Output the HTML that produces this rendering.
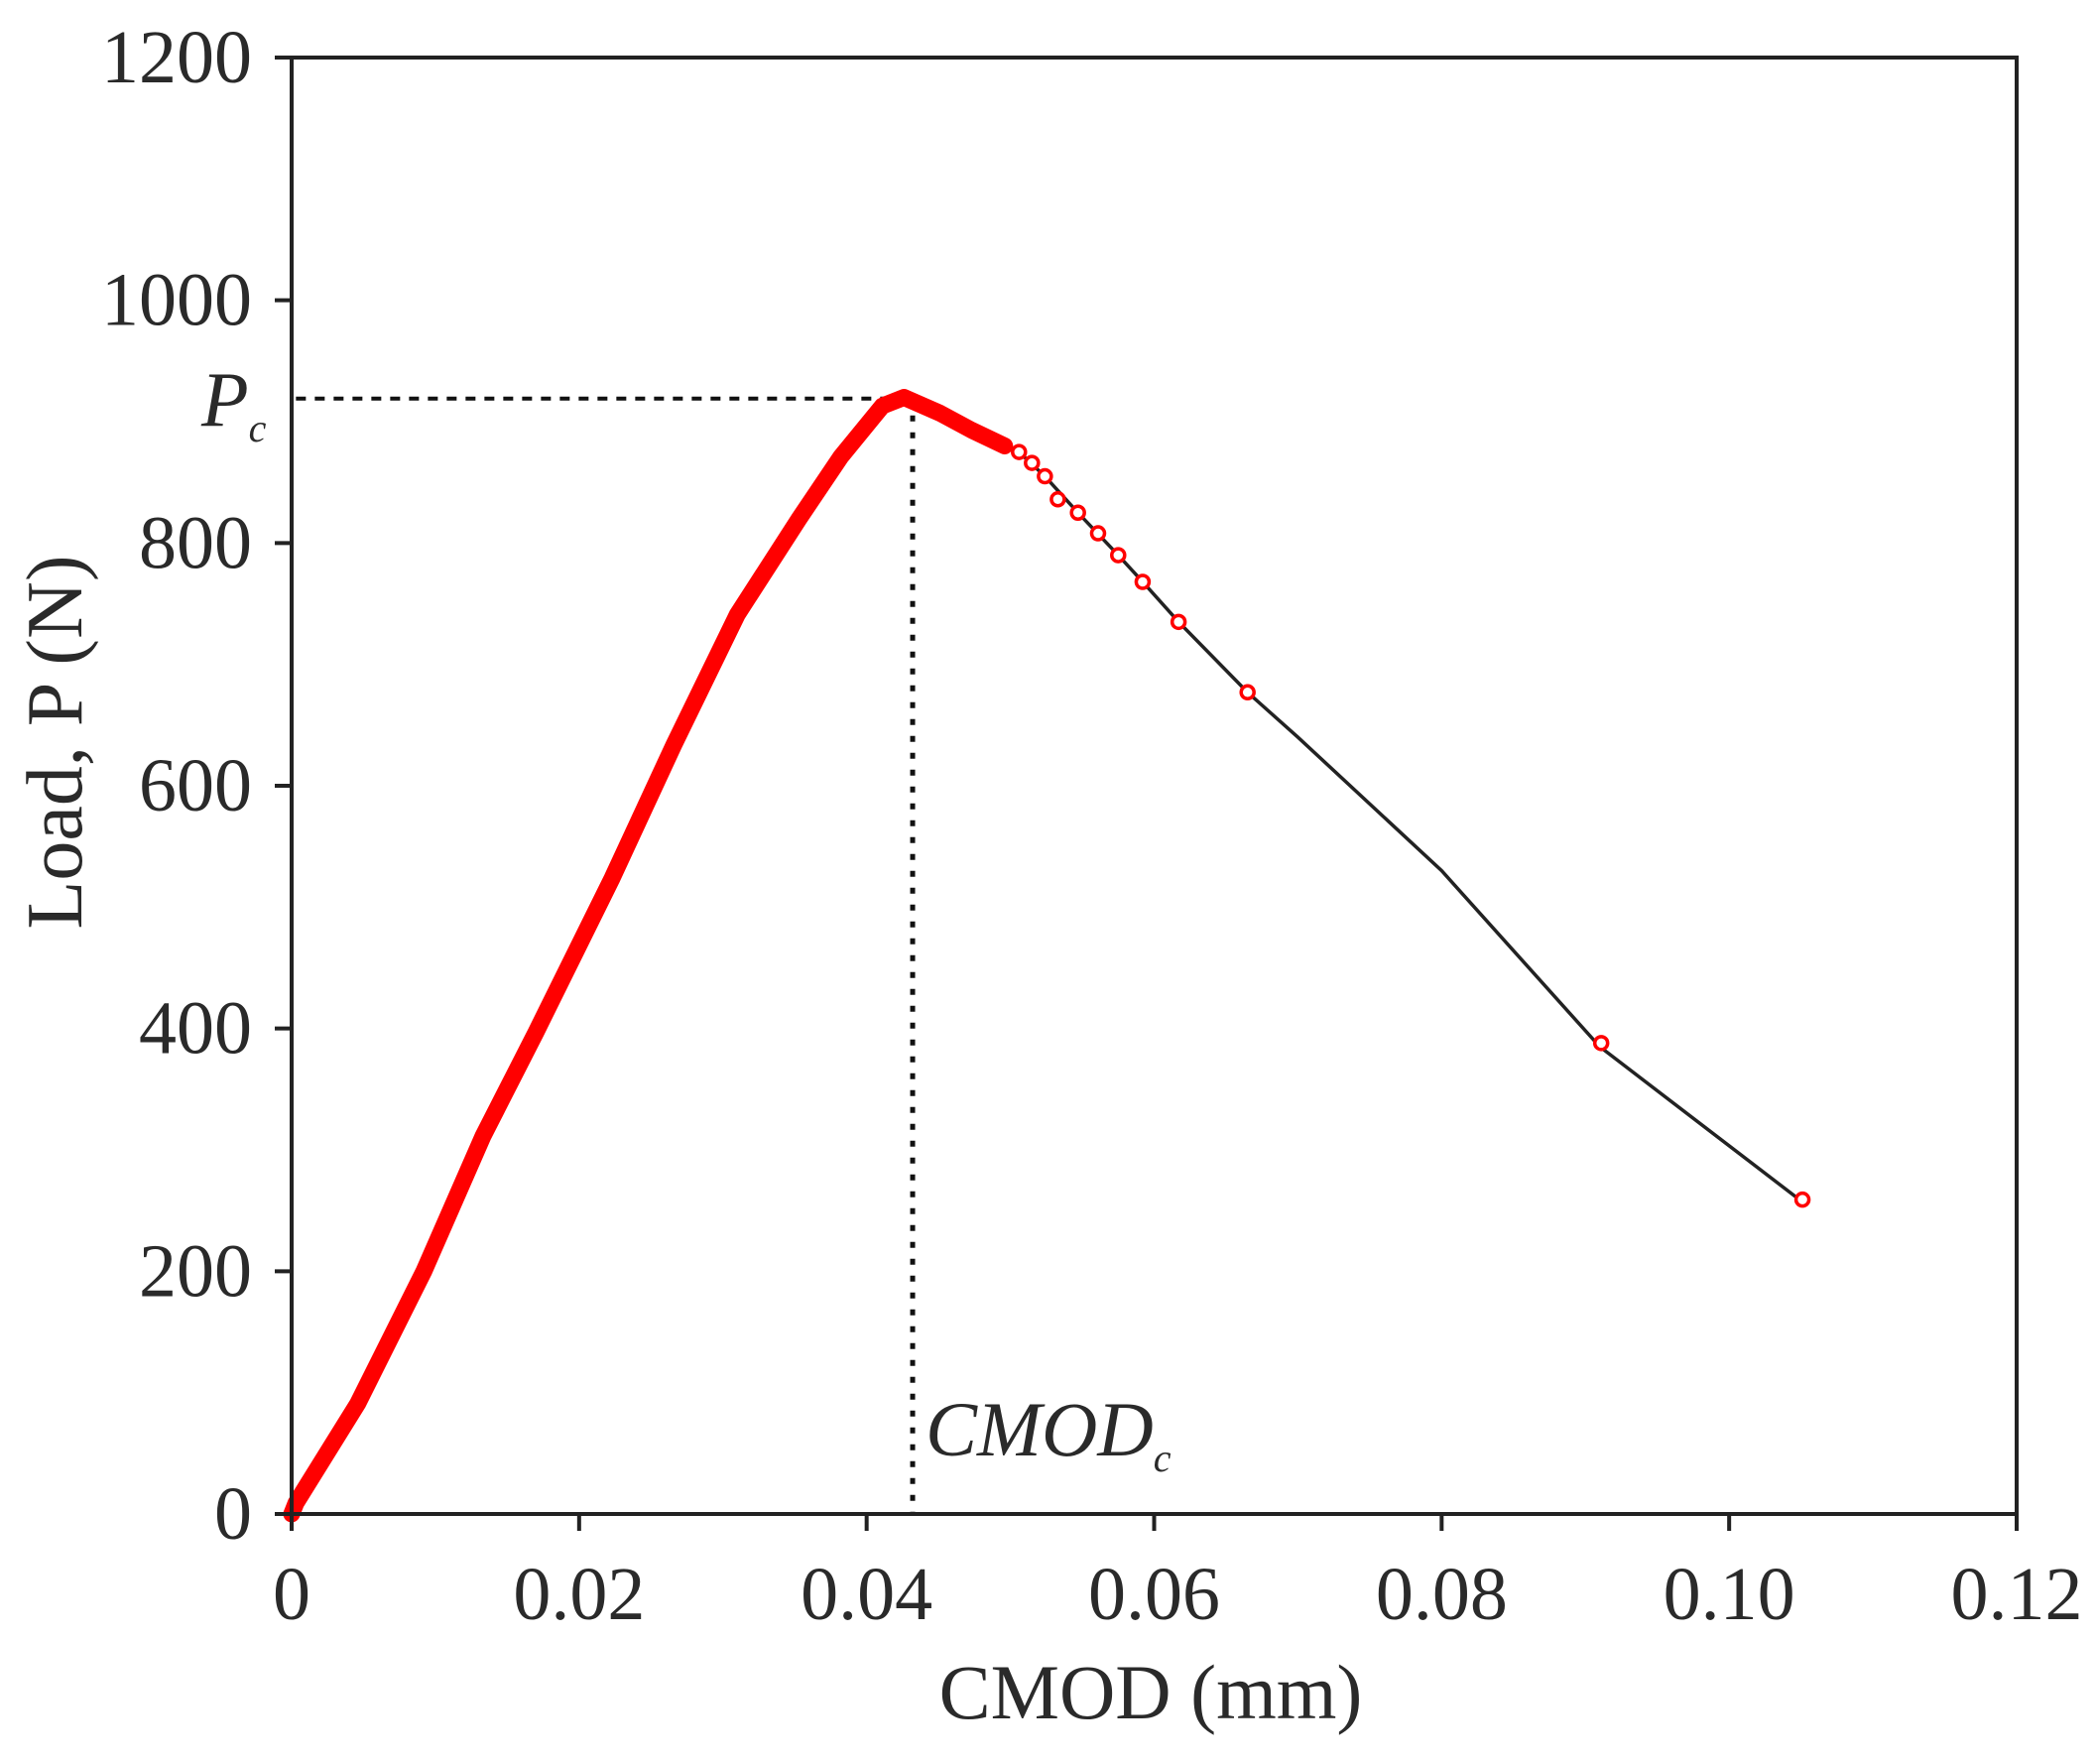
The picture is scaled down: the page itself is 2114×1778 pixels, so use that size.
<!DOCTYPE html>
<html><head><meta charset="utf-8"><style>
body{margin:0;background:#fff}
svg text{font-family:"Liberation Serif",serif;fill:#2a2a2a}
</style></head><body>
<svg id="chart" width="2114" height="1773" viewBox="0 0 2114 1773" xmlns="http://www.w3.org/2000/svg">
<g id="marks"></g>
<g id="axes"></g>
</svg>
<script>
const xTicks=[0,0.02,0.04,0.06,0.08,0.10,0.12];
const xTickLabels=["0","0.02","0.04","0.06","0.08","0.10","0.12"];
const yTicks=[0,200,400,600,800,1000,1200];
const risingX=[0,0.0003,0.0046,0.0092,0.0133,0.0170,0.0223,0.0266,0.0310,0.0353,0.0382,0.0411,0.0426,0.0451,0.0473,0.0496];
const risingY=[0,9,91,200,311,397,524,634,741,820,871,913,920,907,893,880];
const fallX=[0.0426,0.0451,0.0473,0.0496,0.0506,0.0524,0.0547,0.0575,0.0592,0.0617,0.0665,0.070,0.080,0.091,0.105];
const fallY=[920,907,893,880,875,855,825,790,768,735,677,640,530,385,258];
const markerX=[0.0506,0.0515,0.0524,0.0533,0.0547,0.0561,0.0575,0.0592,0.0617,0.0665,0.0911,0.1051];
const markerY=[875,866,855,836,825,808,790,768,735,677,388,259];
const peakX=0.0432, peakY=919;

const L=294,R=2033,T=58,B=1526;
const sx=v=>L+(v-0)/(0.12)*(R-L);
const sy=v=>B-v/1200*(B-T);
const NS="http://www.w3.org/2000/svg";
const marks=document.getElementById('marks'),axes=document.getElementById('axes');
function mk(tag,attrs,parent){const e=document.createElementNS(NS,tag);for(const k in attrs)e.setAttribute(k,attrs[k]);parent.appendChild(e);return e;}

let e=mk('line',{x1:sx(0.0003),y1:sy(peakY),x2:sx(peakX),y2:sy(peakY),stroke:'#111','stroke-width':4,'stroke-dasharray':'10 9'},marks);


e=mk('line',{x1:sx(peakX),y1:sy(peakY),x2:sx(peakX),y2:B,stroke:'#111','stroke-width':5,'stroke-dasharray':'6 11'},marks);



e=mk('polyline',{points:fallX.map((x,i)=>sx(x)+','+sy(fallY[i])).join(' '),fill:'none',stroke:'#222','stroke-width':3.5},marks);


e=mk('polyline',{points:risingX.map((x,i)=>sx(x)+','+sy(risingY[i])).join(' '),fill:'none',stroke:'#ff0000','stroke-width':17,'stroke-linejoin':'round','stroke-linecap':'round'},marks);


markerX.forEach((x,i)=>{
  const c=mk('circle',{cx:sx(x),cy:sy(markerY[i]),r:6.5,fill:'#fff',stroke:'#ff0000','stroke-width':3.5},marks);
  
  
});

e=mk('rect',{x:L,y:T,width:R-L,height:B-T,fill:'none',stroke:'#222','stroke-width':4},axes);


xTicks.forEach((v,i)=>{
  const t=mk('line',{x1:sx(v),y1:B,x2:sx(v),y2:B+17,stroke:'#222','stroke-width':4},axes);
  
  
  const tx=mk('text',{x:sx(v),y:1632,'text-anchor':'middle','font-size':76},axes);
  tx.textContent=xTickLabels[i];
  
  
});
yTicks.forEach(v=>{
  const t=mk('line',{x1:L-17,y1:sy(v),x2:L,y2:sy(v),stroke:'#222','stroke-width':4},axes);
  
  
  const tx=mk('text',{x:L-40,y:sy(v)+25,'text-anchor':'end','font-size':76},axes);
  tx.textContent=String(v);
  
  
});
e=mk('text',{x:1160,y:1732,'text-anchor':'middle','font-size':78},axes);
e.textContent='CMOD (mm)';


e=mk('text',{x:0,y:0,'text-anchor':'middle','font-size':80,transform:'translate(82,748) rotate(-90)'},axes);
e.textContent='Load, P (N)';


e=mk('text',{x:203,y:429,'font-size':78,'font-style':'italic'},axes);
e.innerHTML='P<tspan font-size="40" dy="16">c</tspan>';


e=mk('text',{x:sx(peakX)+13,y:1467,'font-size':78,'font-style':'italic'},axes);
e.innerHTML='CMOD<tspan font-size="40" dy="16">c</tspan>';


</script>
</body></html>
